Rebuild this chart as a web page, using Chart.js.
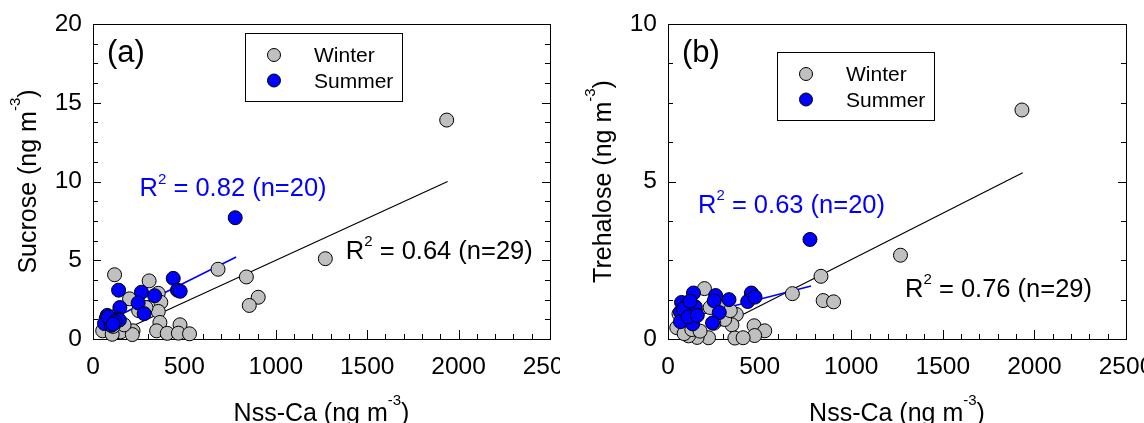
<!DOCTYPE html>
<html>
<head>
<meta charset="utf-8">
<script src="https://cdn.jsdelivr.net/npm/chart.js@4.4.0/dist/chart.umd.min.js"></script>
<style>
  html, body { margin: 0; padding: 0; background: #fff; }
  #wrap { position: relative; width: 1144px; height: 423px; overflow: hidden; }
  #wrap canvas { position: absolute; top: 0; }
  #chartA { left: 0; }
  #chartB { left: 560px; }
</style>
</head>
<body>
<div id="wrap">
  <canvas id="chartA" width="560" height="423"></canvas>
  <canvas id="chartB" width="584" height="423"></canvas>
</div>
<script>
'use strict';

const FONT = '"Liberation Sans", Arial, Helvetica, sans-serif';

// ---- data ----
const seasons = ['Winter', 'Summer'];
const xTicks = [0, 500, 1000, 1500, 2000, 2500];
const yTicksA = [0, 5, 10, 15, 20];
const yTicksB = [0, 5, 10];

// (a) sucrose vs nss-Ca
const nssCaWinterA = [1935, 1271, 684, 839, 904, 855, 118, 307, 357, 371, 357, 200, 366, 476, 53, 219, 348, 406, 467, 528, 151, 105, 215, 80, 130, 170, 250, 290, 110];
const sucroseWinter = [13.9, 5.1, 4.43, 3.94, 2.65, 2.13, 4.08, 3.69, 2.9, 2.33, 1.75, 2.55, 1.05, 0.9, 0.52, 0.52, 0.52, 0.36, 0.37, 0.33, 0.45, 0.3, 0.28, 1.2, 1.5, 0.9, 1.8, 2.0, 0.8];
const nssCaSummerA = [778, 439, 140, 265, 337, 462, 477, 247, 280, 147, 78, 72, 136, 63, 100, 95, 144, 85, 120, 110];
const sucroseSummer = [7.7, 3.85, 3.1, 2.97, 2.75, 3.1, 3.03, 2.29, 1.61, 2.0, 1.5, 1.3, 1.28, 0.98, 0.87, 1.2, 1.2, 1.4, 1.1, 0.95];
const sucroseFitWinterX = [130, 1940];
const sucroseFitWinterY = [0.37, 10.0];
const sucroseFitSummerX = [60, 783];
const sucroseFitSummerY = [1.02, 5.21];

// (b) trehalose vs nss-Ca
const nssCaWinterB = [1932, 1269, 835, 679, 847, 904, 199, 373, 349, 309, 470, 528, 473, 365, 410, 221, 159, 112, 48, 88, 100, 150, 250, 230, 290, 130, 175, 340, 60];
const trehaloseWinter = [7.27, 2.66, 1.99, 1.44, 1.22, 1.18, 1.6, 0.78, 0.45, 0.62, 0.42, 0.26, 0.11, 0.03, 0.04, 0.04, 0.05, 0.1, 0.36, 0.17, 0.6, 0.9, 0.5, 1.0, 1.0, 0.3, 0.25, 0.9, 0.8];
const nssCaSummerB = [775, 139, 260, 333, 252, 455, 435, 475, 280, 74, 99, 149, 68, 68, 135, 243, 85, 120, 110, 160];
const trehaloseSummer = [3.16, 1.46, 1.38, 1.25, 1.21, 1.46, 1.19, 1.33, 0.84, 1.16, 1.04, 1.02, 0.86, 0.55, 0.48, 0.51, 0.95, 1.2, 0.7, 0.75];
const trehaloseFitWinterX = [250, 1936];
const trehaloseFitWinterY = [0.31, 5.28];
const trehaloseFitSummerX = [60, 781];
const trehaloseFitSummerY = [0.6, 1.68];

// text pieces: [text, isSuperscript]
const xTitle = [['Nss-Ca (ng m', 0], ['-3', 1], [')', 0]];
const yTitleA = [['Sucrose (ng m', 0], ['-3', 1], [')', 0]];
const yTitleB = [['Trehalose (ng m', 0], ['-3', 1], [')', 0]];
const r2SummerA = [['R', 0], ['2', 1], [' = 0.82 (n=20)', 0]];
const r2WinterA = [['R', 0], ['2', 1], [' = 0.64 (n=29)', 0]];
const r2SummerB = [['R', 0], ['2', 1], [' = 0.63 (n=20)', 0]];
const r2WinterB = [['R', 0], ['2', 1], [' = 0.76 (n=29)', 0]];

const WINTER_FILL = '#c0c0c0';
const SUMMER_FILL = '#0000ff';

function pts(xs, ys) {
  return xs.map(function (x, i) { return {x: x, y: ys[i]}; });
}

// draw text with superscript parts
function drawRich(ctx, parts, x, y, size, color, align, raise) {
  const supSize = Math.round(size * 0.6);
  let w = 0;
  parts.forEach(function (p) {
    ctx.font = (p[1] ? supSize : size) + 'px ' + FONT;
    w += ctx.measureText(p[0]).width;
  });
  let cx = align === 'center' ? x - w / 2 : x;
  ctx.fillStyle = color;
  ctx.textAlign = 'left';
  ctx.textBaseline = 'alphabetic';
  parts.forEach(function (p) {
    ctx.font = (p[1] ? supSize : size) + 'px ' + FONT;
    ctx.fillText(p[0], cx, p[1] ? y - size * raise : y);
    cx += ctx.measureText(p[0]).width;
  });
}

const framePlugin = {
  id: 'frame',
  beforeDatasetsDraw(chart, args, o) {
    const ctx = chart.ctx, a = chart.chartArea;
    const xs = chart.scales.x, ys = chart.scales.y;
    ctx.save();
    ctx.strokeStyle = '#000';
    ctx.lineWidth = 1;
    ctx.strokeRect(Math.round(a.left) + 0.5, Math.round(a.top) + 0.5,
      Math.round(a.right - a.left), Math.round(a.bottom - a.top));
    ctx.beginPath();
    // bottom ticks, inward
    for (let v = xs.min; v <= xs.max + 1e-6; v += o.xMinor) {
      const px = Math.round(xs.getPixelForValue(v)) + 0.5;
      const len = Math.abs(v % o.xMajor) < 1e-6 ? 9 : 5;
      ctx.moveTo(px, a.bottom);
      ctx.lineTo(px, a.bottom - len);
    }
    // left and right ticks, inward
    for (let v = ys.min; v <= ys.max + 1e-6; v += o.yMinor) {
      const py = Math.round(ys.getPixelForValue(v)) + 0.5;
      const len = Math.abs(v % o.yMajor) < 1e-6 ? 8 : 5;
      ctx.moveTo(a.left, py);
      ctx.lineTo(a.left + len, py);
      ctx.moveTo(a.right, py);
      ctx.lineTo(a.right - len, py);
    }
    ctx.stroke();
    ctx.restore();
  },
  afterDraw(chart, args, o) {
    const ctx = chart.ctx, a = chart.chartArea;
    const xs = chart.scales.x, ys = chart.scales.y;
    ctx.save();

    // axis titles
    drawRich(ctx, xTitle, (a.left + a.right) / 2, 421, 25, '#000', 'center', 0.66);
    ctx.save();
    ctx.translate(a.left - 57, (a.top + a.bottom) / 2);
    ctx.rotate(-Math.PI / 2);
    drawRich(ctx, o.yTitle, 0, 0, 25, '#000', 'center', 0.66);
    ctx.restore();

    // panel letter
    ctx.font = '31px ' + FONT;
    ctx.fillStyle = '#000';
    ctx.textAlign = 'left';
    ctx.textBaseline = 'alphabetic';
    ctx.fillText(o.panel, a.left + 14, 62);

    // R2 labels anchored in data space
    o.notes.forEach(function (n) {
      drawRich(ctx, n.parts, xs.getPixelForValue(n.x), ys.getPixelForValue(n.y), 25.5, n.color, 'left', 0.5);
    });

    // legend box
    const L = o.legend;
    const bx = a.left + L.dx, by = a.top + L.dy;
    ctx.strokeStyle = '#000';
    ctx.lineWidth = 1;
    ctx.strokeRect(Math.round(bx) + 0.5, Math.round(by) + 0.5, 157, 68);
    const fills = [WINTER_FILL, SUMMER_FILL];
    seasons.forEach(function (s, i) {
      const cy = by + 22 + i * 25.5;
      ctx.beginPath();
      ctx.arc(bx + 29, cy, 6.5, 0, Math.PI * 2);
      ctx.fillStyle = fills[i];
      ctx.fill();
      ctx.strokeStyle = '#000';
      ctx.stroke();
      ctx.font = '21px ' + FONT;
      ctx.fillStyle = '#000';
      ctx.fillText(s, bx + 69, cy + 7);
    });
    ctx.restore();
  }
};

function plainTick(v) { return String(v); }

function makePanel(id, cfg) {
  const tickFont = {family: FONT, size: 24.5};
  return new Chart(document.getElementById(id), {
    type: 'scatter',
    data: {
      datasets: [
        {
          label: 'Summer', order: 0, clip: false,
          data: pts(cfg.sx, cfg.sy),
          backgroundColor: SUMMER_FILL, borderColor: '#000', borderWidth: 1,
          pointRadius: 7, pointHoverRadius: 7
        },
        {
          label: 'Winter', order: 1, clip: false,
          data: pts(cfg.wx, cfg.wy),
          backgroundColor: WINTER_FILL, borderColor: '#000', borderWidth: 1,
          pointRadius: 7, pointHoverRadius: 7
        },
        {
          type: 'line', label: 'Summer fit', order: 2,
          data: pts(cfg.sfx, cfg.sfy),
          borderColor: '#0000ff', borderWidth: 1.6, pointRadius: 0, fill: false
        },
        {
          type: 'line', label: 'Winter fit', order: 3,
          data: pts(cfg.wfx, cfg.wfy),
          borderColor: '#000', borderWidth: 1.2, pointRadius: 0, fill: false
        }
      ]
    },
    options: {
      responsive: false,
      animation: false,
      events: [],
      layout: {padding: {top: 24, right: cfg.padRight, left: 0, bottom: 0}},
      scales: {
        x: {
          type: 'linear', min: 0, max: 2500,
          afterBuildTicks: function (s) { s.ticks = xTicks.map(function (v) { return {value: v}; }); },
          afterFit: function (s) { s.height = 84; s.paddingLeft = 0; s.paddingRight = 0; },
          grid: {display: false, drawTicks: false},
          border: {display: false},
          ticks: {font: tickFont, color: '#000', padding: 14, autoSkip: false, maxRotation: 0, callback: plainTick}
        },
        y: {
          type: 'linear', min: 0, max: cfg.yMax,
          afterBuildTicks: function (s) { s.ticks = cfg.yTicks.map(function (v) { return {value: v}; }); },
          afterFit: function (s) { s.width = cfg.yWidth; s.paddingTop = 0; s.paddingBottom = 0; },
          grid: {display: false, drawTicks: false},
          border: {display: false},
          ticks: {font: tickFont, color: '#000', padding: 11, autoSkip: false, callback: plainTick}
        }
      },
      plugins: {
        legend: {display: false},
        tooltip: {enabled: false},
        frame: {
          xMajor: 500, xMinor: 100, yMajor: 5, yMinor: 1.25,
          yTitle: cfg.yTitle, panel: cfg.panel,
          legend: cfg.legend, notes: cfg.notes
        }
      }
    },
    plugins: [framePlugin]
  });
}

makePanel('chartA', {
  wx: nssCaWinterA, wy: sucroseWinter, sx: nssCaSummerA, sy: sucroseSummer,
  wfx: sucroseFitWinterX, wfy: sucroseFitWinterY, sfx: sucroseFitSummerX, sfy: sucroseFitSummerY,
  yMax: 20, yTicks: yTicksA, yWidth: 93, padRight: 10,
  yTitle: yTitleA, panel: '(a)',
  legend: {dx: 152, dy: 9},
  notes: [
    {parts: r2SummerA, x: 255, y: 9.05, color: '#0000ff'},
    {parts: r2WinterA, x: 1383, y: 5.08, color: '#000'}
  ]
});

makePanel('chartB', {
  wx: nssCaWinterB, wy: trehaloseWinter, sx: nssCaSummerB, sy: trehaloseSummer,
  wfx: trehaloseFitWinterX, wfy: trehaloseFitWinterY, sfx: trehaloseFitSummerX, sfy: trehaloseFitSummerY,
  yMax: 10, yTicks: yTicksB, yWidth: 108, padRight: 18,
  yTitle: yTitleB, panel: '(b)',
  legend: {dx: 109, dy: 28},
  notes: [
    {parts: r2SummerB, x: 164, y: 4.01, color: '#0000ff'},
    {parts: r2WinterB, x: 1294, y: 1.33, color: '#000'}
  ]
});
</script>
</body>
</html>
